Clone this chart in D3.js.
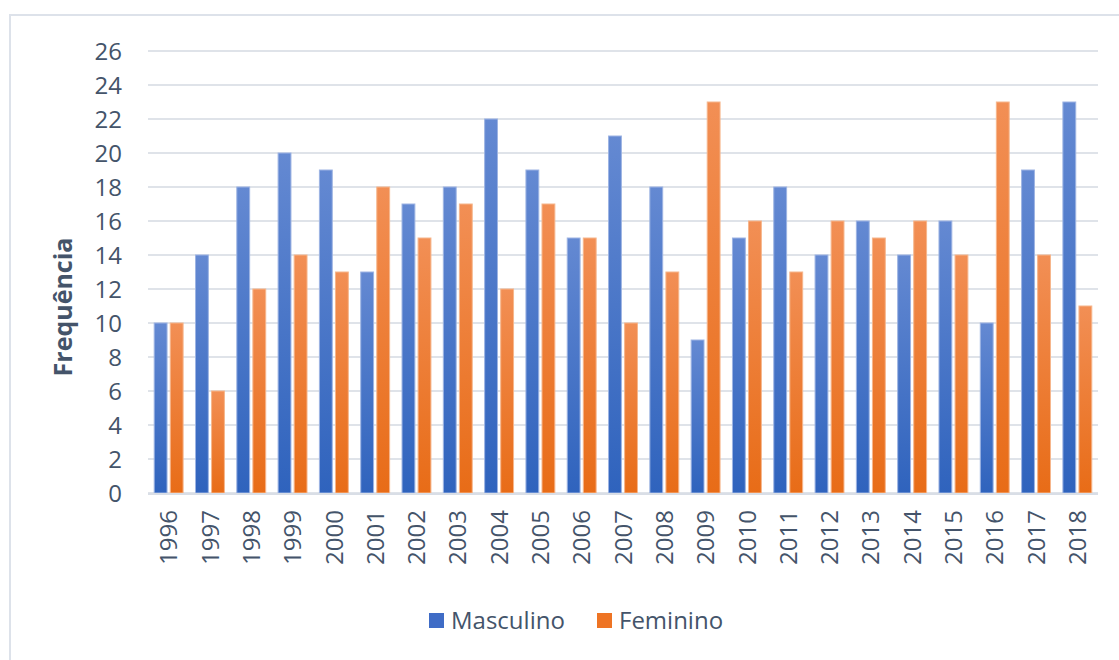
<!DOCTYPE html>
<html>
<head>
<meta charset="utf-8">
<script src="https://cdn.jsdelivr.net/npm/d3@7"></script>
<style>
  body { margin: 0; background: #fff; }
  text { font-family: "Open Sans", sans-serif; fill: #44546a; }
</style>
</head>
<body>
<script>
const years = ['1996','1997','1998','1999','2000','2001','2002','2003','2004','2005','2006','2007',
	'2008','2009','2010','2011','2012','2013','2014','2015','2016','2017','2018'];
const masculino = [10,14,18,20,19,13,17,18,22,19,15,21,18,9,15,18,14,16,14,16,10,19,23];
const feminino  = [10,6,12,14,13,18,15,17,12,17,15,10,13,23,16,13,16,15,16,14,23,14,11];
const seriesNames = ['Masculino', 'Feminino'];
const yTicks = d3.range(0, 27, 2);

const W = 1119, H = 660;
const plot = { left: 148, right: 1098, top: 51, bottom: 493 };

const svg = d3.select('body').append('svg')
	.attr('width', W)
	.attr('height', H);

// gradients, lighter at the top like the Excel style
const defs = svg.append('defs');
const grads = [
	{ id: 'gBlue', top: '#6489d2', bottom: '#2f63bd' },
	{ id: 'gOrange', top: '#f28f55', bottom: '#e86c17' }
];
grads.forEach(g => {
	const lg = defs.append('linearGradient')
		.attr('id', g.id)
		.attr('x1', 0).attr('y1', 0).attr('x2', 0).attr('y2', 1);
	lg.append('stop').attr('offset', '0%').attr('stop-color', g.top);
	lg.append('stop').attr('offset', '100%').attr('stop-color', g.bottom);
});
const fills = ['url(#gBlue)', 'url(#gOrange)'];
const strokes = ['#9db4e3', '#f6b68c'];
const legendColors = ['#3f6cc6', '#ee7424'];

// chart frame
svg.append('rect')
	.attr('x', 10).attr('y', 15)
	.attr('width', W + 10).attr('height', H + 10)
	.attr('fill', 'none')
	.attr('stroke', '#dde2ea')
	.attr('stroke-width', 2);

const x = d3.scaleBand()
	.domain(years)
	.range([plot.left, plot.right])
	.paddingInner(0.3)
	.paddingOuter(0.15);

const xSub = d3.scaleBand()
	.domain(seriesNames)
	.range([0, x.bandwidth()])
	.paddingInner(0.2);

const y = d3.scaleLinear()
	.domain([0, 26])
	.range([plot.bottom, plot.top]);

// grid lines
svg.append('g')
	.selectAll('line')
	.data(yTicks)
	.join('line')
	.attr('x1', plot.left).attr('x2', plot.right)
	.attr('y1', d => y(d)).attr('y2', d => y(d))
	.attr('stroke', '#dfe3e9')
	.attr('stroke-width', 2);

// y axis labels
const yAxis = d3.axisLeft(y).tickValues(yTicks).tickSize(0).tickPadding(0);
const gy = svg.append('g')
	.attr('transform', `translate(122,0)`)
	.call(yAxis);
gy.select('.domain').remove();
gy.selectAll('text')
	.attr('dy', '0.36em')
	.style('font-size', '24px');

// x axis labels
const xAxis = d3.axisBottom(x).tickSize(0);
const gx = svg.append('g')
	.attr('transform', `translate(0,${plot.bottom})`)
	.call(xAxis);
gx.select('.domain').remove();
gx.selectAll('text')
	.style('font-size', '24px')
	.attr('text-anchor', 'end')
	.attr('transform', 'rotate(-90)')
	.attr('x', -17)
	.attr('y', 0)
	.attr('dy', '0.36em');

// bars
const rows = years.map((yr, i) => ({ year: yr, values: [masculino[i], feminino[i]] }));
const groups = svg.append('g')
	.selectAll('g')
	.data(rows)
	.join('g')
	.attr('transform', d => `translate(${x(d.year)},0)`);

groups.selectAll('rect')
	.data(d => d.values.map((v, k) => ({ key: seriesNames[k], k: k, value: v })))
	.join('rect')
	.attr('x', d => xSub(d.key))
	.attr('width', xSub.bandwidth())
	.attr('y', d => y(d.value))
	.attr('height', d => y(0) - y(d.value))
	.attr('fill', d => fills[d.k])
	.attr('stroke', d => strokes[d.k])
	.attr('stroke-width', 1);

// baseline
svg.append('line')
	.attr('x1', plot.left).attr('x2', plot.right)
	.attr('y1', y(0) + 1).attr('y2', y(0) + 1)
	.attr('stroke', '#d9dee6')
	.attr('stroke-width', 2);

// y axis title
svg.append('text')
	.attr('transform', `translate(72,307) rotate(-90)`)
	.attr('text-anchor', 'middle')
	.style('font-size', '25px')
	.style('font-weight', 'bold')
	.text('Frequência');

// legend
const legendX = [429, 597];
const legend = svg.append('g');
seriesNames.forEach((name, k) => {
	legend.append('rect')
		.attr('x', legendX[k]).attr('y', 613)
		.attr('width', 15).attr('height', 15)
		.attr('fill', legendColors[k]);
	legend.append('text')
		.attr('x', legendX[k] + 22)
		.attr('y', 629)
		.style('font-size', '24px')
		.text(name);
});
</script>
</body>
</html>
